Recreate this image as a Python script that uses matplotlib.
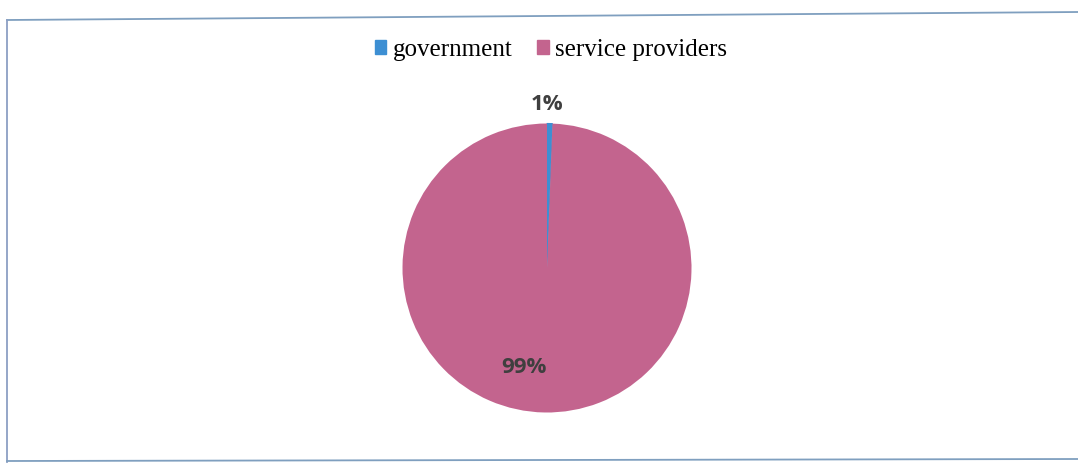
import numpy as np
import matplotlib

matplotlib.use("Agg")
import matplotlib.pyplot as plt
from matplotlib.patches import Rectangle

categories = ["government", "service providers"]
shares = [0.6, 99.4]
pct_labels = ["1%", "99%"]
colors = ["#3d8fd3", "#c3648e"]

fig = plt.figure(figsize=(10.78, 4.66), dpi=100)
fig.patch.set_facecolor("white")

# chart frame (slightly skewed like the scan)
fig.add_artist(plt.Line2D([7 / 1078, 1.0], [1 - 20 / 466, 1 - 12 / 466],
                          transform=fig.transFigure, color="#7f9fbf", lw=1.3))
fig.add_artist(plt.Line2D([7 / 1078, 7 / 1078], [1 - 20 / 466, 1 - 462 / 466],
                          transform=fig.transFigure, color="#8c9fc4", lw=1.3))
fig.add_artist(plt.Line2D([7 / 1078, 1.0], [1 - 461 / 466, 1 - 459 / 466],
                          transform=fig.transFigure, color="#7f9fbf", lw=1.3))

cx, cy, r = 547, 268, 144.5
ax = fig.add_axes([(cx - r) / 1078, (466 - cy - r) / 466, 2 * r / 1078, 2 * r / 466])
wedges, _ = ax.pie(shares, colors=colors, startangle=90, counterclock=False,
                   radius=1.0, labels=None)
wedges[0].set_edgecolor(colors[0])
wedges[0].set_linewidth(0.8)
ax.set_xlim(-1, 1)
ax.set_ylim(-1, 1)
ax.set_aspect("equal")
ax.axis("off")

# data labels: first outside, second inside (Excel best fit)
label_pos = [(0.0, 1.13), (-0.16, -0.69)]
for (x, y), txt in zip(label_pos, pct_labels):
    ax.text(x, y, txt, ha="center", va="center", fontsize=16, fontweight="bold",
            family=["Open Sans", "DejaVu Sans"], color="#3f3f3f")

handles = [Rectangle((0, 0), 1, 1, color=c) for c in colors]
fig.legend(handles, categories, loc="center", bbox_to_anchor=(551 / 1078, 1 - 50 / 466),
           ncol=2, frameon=False, handlelength=0.45, handleheight=0.45, handletextpad=0.25,
           columnspacing=1.0, prop={"family": "Liberation Serif", "size": 18})

fig.savefig("out.png", dpi=100)
